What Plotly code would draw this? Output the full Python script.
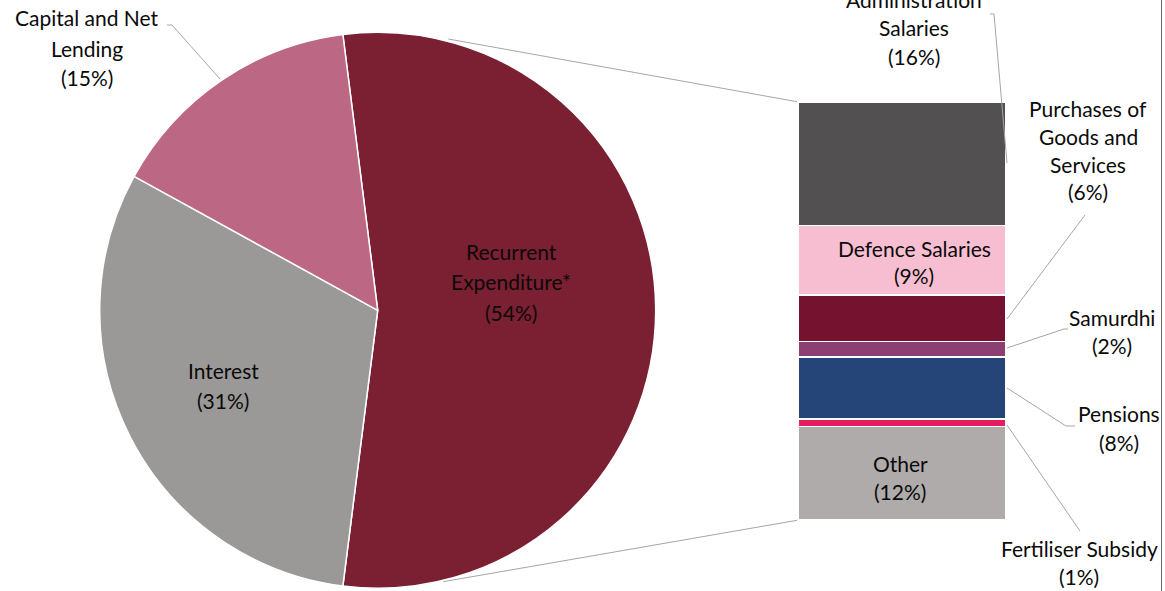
import plotly.graph_objects as go

# ---- data -------------------------------------------------------------
pie_labels = ["Recurrent<br>Expenditure*", "Interest", "Capital and Net<br>Lending"]
pie_values = [54, 31, 15]
pie_colors = ["#7B1F32", "#9A9998", "#BC6784"]

bar_labels = ["Administration<br>Salaries", "Defence Salaries",
              "Purchases of<br>Goods and<br>Services", "Samurdhi",
              "Pensions", "Fertiliser Subsidy", "Other"]
bar_values = [16, 9, 6, 2, 8, 1, 12]
bar_colors = ["#525051", "#F7BED1", "#741230", "#8B3F73",
              "#254478", "#E41D5F", "#AFABAB"]

W, H = 1165, 591
FONT = "Lato"
FSIZE = 21
TXT = "#0A0A0A"
LEAD = "#A6A6A6"


def px(x):
    return x / W


def py(y):
    return 1 - y / H


fig = go.Figure()

# ---- pie ---------------------------------------------------------------
cx, cy, r = 377.7, 310.3, 278
fig.add_trace(go.Pie(
    labels=pie_labels, values=pie_values, sort=False, direction="clockwise",
    rotation=-7.2, marker=dict(colors=pie_colors, line=dict(color="white", width=1.5)),
    textinfo="none", hoverinfo="label+value", showlegend=False,
    domain=dict(x=[px(cx - r), px(cx + r)], y=[py(cy + r), py(cy - r)]),
))

# ---- stacked bar (bottom segment first) --------------------------------
for lab, val, col in reversed(list(zip(bar_labels, bar_values, bar_colors))):
    fig.add_trace(go.Bar(
        x=[0], y=[val], name=lab.replace("<br>", " "), width=1,
        marker=dict(color=col, line=dict(color="white", width=1.6)),
        xaxis="x", yaxis="y", showlegend=False, hoverinfo="name+y",
    ))

bx0, bx1, by_bot, by_top = 798, 1006, 519.3, 101.7
fig.update_layout(
    barmode="stack",
    xaxis=dict(domain=[px(bx0), px(bx1)], range=[-0.5, 0.5], visible=False, fixedrange=True),
    yaxis=dict(domain=[py(by_bot), py(by_top)], range=[0, sum(bar_values)], visible=False,
               fixedrange=True),
)

# ---- labels (one annotation per line for Office-like line spacing) -----
def label(text, x, y_first, step=29):
    for i, line in enumerate(text.split("<br>")):
        fig.add_annotation(text=line, x=px(x), y=py(y_first + i * step), xref="paper",
                           yref="paper", xanchor="center", yanchor="middle",
                           showarrow=False, font=dict(family=FONT, size=FSIZE, color=TXT))

pie_txt = [f"{l}<br>({v}%)" for l, v in zip(pie_labels, pie_values)]
bar_txt = [f"{l}<br>({v}%)" for l, v in zip(bar_labels, bar_values)]

label(pie_txt[0], 511, 251, 30.5)
label(pie_txt[1], 223, 370.5, 29.5)
label(pie_txt[2], 87, 18, 30)

label(bar_txt[0], 914, -1, 29)
label(bar_txt[1], 914, 248, 27.5)
label(bar_txt[2], 1088, 108, 28)
label(bar_txt[3], 1112, 317, 28)
label(bar_txt[4], 1119, 413, 29)
label(bar_txt[5], 1079, 548, 28)
label(bar_txt[6], 900, 463, 28.5)

# ---- leader and connector lines ----------------------------------------
def poly(points, color=LEAD, width=1):
    d = "M " + " L ".join(f"{px(x)},{py(y)}" for x, y in points)
    fig.add_shape(type="path", path=d, xref="paper", yref="paper",
                  line=dict(color=color, width=width))

# pie → bar connectors
poly([(448.3, 39.0), (bx0 - 1, by_top)])
poly([(443.3, 581.7), (bx0 - 1, by_bot + 1)])

# callouts
poly([(167, 25), (172, 25), (220, 79)])                    # Capital and Net Lending
poly([(990, 14), (994, 14), (1007, 163)])                  # Administration Salaries
poly([(1085, 215), (1007, 319)])                           # Purchases
poly([(1068, 329), (1064, 329), (1007, 348)])              # Samurdhi
poly([(1007, 388), (1066, 426), (1075, 426)])              # Pensions
poly([(1007, 425), (1080, 531)])                           # Fertiliser Subsidy

# right border
fig.add_shape(type="line", x0=px(1161.5), x1=px(1161.5), y0=0, y1=1,
              xref="paper", yref="paper", line=dict(color="#6A6A6A", width=1))

fig.update_layout(
    width=W, height=H, margin=dict(l=0, r=0, t=0, b=0),
    paper_bgcolor="white", plot_bgcolor="white",
    font=dict(family=FONT, color=TXT),
)

fig.write_html("out.html")
